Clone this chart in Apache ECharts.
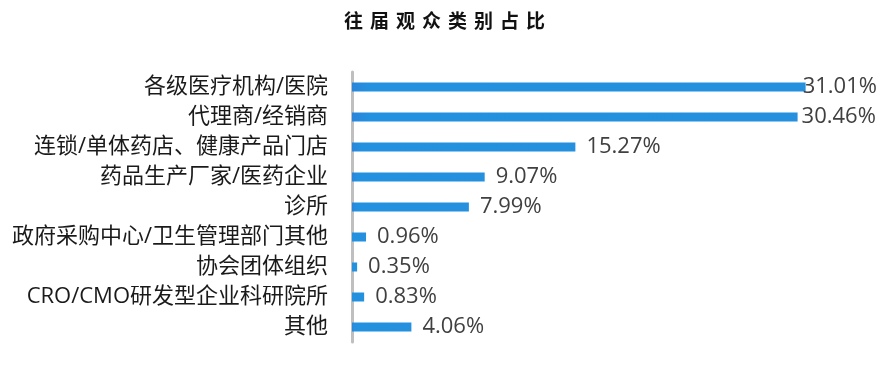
<!DOCTYPE html>
<html>
<head>
<meta charset="utf-8">
<script src="https://cdn.jsdelivr.net/npm/echarts@6/dist/echarts.min.js"></script>
<style>
html,body{margin:0;padding:0;background:#fff;}
#chart{width:889px;height:365px;}
</style>
</head>
<body>
<div id="chart"></div>
<script>
var titleText = '往届观众类别占比';
var categories = ['各级医疗机构/医院','代理商/经销商','连锁/单体药店、健康产品门店','药品生产厂家/医药企业','诊所','政府采购中心/卫生管理部门其他','协会团体组织','CRO/CMO研发型企业科研院所','其他'];
var values = [31.01, 30.46, 15.27, 9.07, 7.99, 0.96, 0.35, 0.83, 4.06];
var labelShift = [-14, -7, 0, 0, 0, 0, 0, 0, 0];

var chart = echarts.init(document.getElementById('chart'));
var titleRich = titleText.split('').map(function(c){return '{c|' + c + '}';}).join('');
var barColor = new echarts.graphic.LinearGradient(0, 0, 1, 0, [
  {offset: 0, color: '#2B85DA'},
  {offset: 0.04, color: '#2391DF'},
  {offset: 1, color: '#2490DE'}
]);
chart.setOption({
  animation: false,
  title: {
    text: titleRich,
    left: 'center',
    top: 6,
    textStyle: {
      rich: {
        c: {fontFamily: "'Noto Sans CJK SC'", fontWeight: 'bold', fontSize: 19, color: '#111', width: 26, align: 'center'}
      }
    }
  },
  grid: {left: 352, right: 25, top: 72, bottom: 23, containLabel: false},
  xAxis: {
    type: 'value', min: 0, max: 35,
    show: false
  },
  yAxis: {
    type: 'category',
    inverse: true,
    data: categories,
    axisLine: {show: true, lineStyle: {color: '#BFBFBF', width: 3}},
    axisTick: {show: false},
    axisLabel: {
      margin: 24,
      fontSize: 22,
      color: '#1a1a1a',
      fontFamily: "'Open Sans', 'Noto Sans CJK SC', sans-serif"
    }
  },
  series: [{
    type: 'bar',
    barWidth: 9,
    data: values.map(function(v, i){
      return {value: v, label: {offset: [labelShift[i], 0]}};
    }),
    itemStyle: {color: barColor},
    label: {
      show: true,
      position: 'right',
      distance: 11,
      fontSize: 22,
      color: '#404040',
      fontFamily: "'Open Sans', 'Noto Sans', sans-serif",
      formatter: function(p){ return p.value.toFixed(2) + '%'; }
    }
  }]
});
</script>
</body>
</html>
